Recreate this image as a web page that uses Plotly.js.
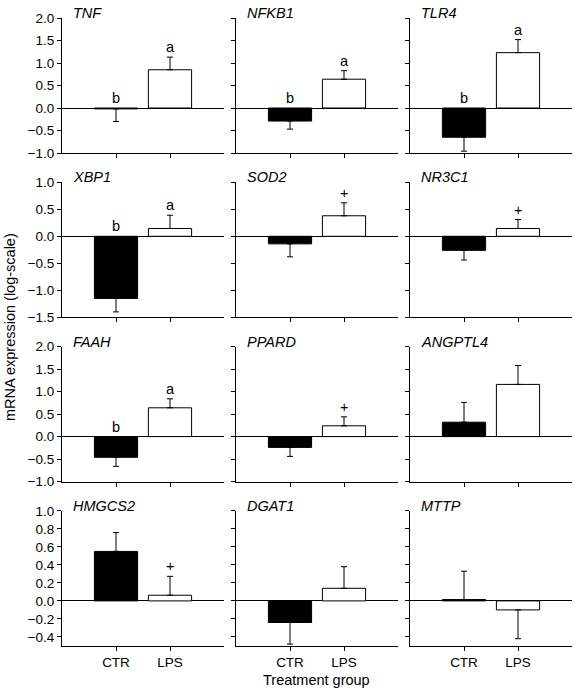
<!DOCTYPE html>
<html><head><meta charset="utf-8">
<script src="https://cdn.plot.ly/plotly-3.0.1.min.js"></script>
<style>html,body{margin:0;padding:0;background:#fff}#chart{width:574px;height:689px}</style>
</head><body><div id="chart"></div>
<script>
// ---- data ----
const genes = ['TNF','NFKB1','TLR4','XBP1','SOD2','NR3C1','FAAH','PPARD','ANGPTL4','HMGCS2','DGAT1','MTTP'];
const groups = ['CTR','LPS'];
const ctrMean = [-0.02, -0.29, -0.65, -1.15, -0.14, -0.26, -0.46, -0.24, 0.32, 0.55, -0.24, 0.015];
const ctrErr  = [0.28, 0.18, 0.31, 0.25, 0.24, 0.18, 0.20, 0.20, 0.44, 0.21, 0.24, 0.315];
const lpsMean = [0.85, 0.64, 1.23, 0.145, 0.38, 0.145, 0.64, 0.24, 1.16, 0.063, 0.14, -0.10];
const lpsErr  = [0.28, 0.19, 0.29, 0.245, 0.24, 0.165, 0.20, 0.20, 0.42, 0.21, 0.24, 0.32];
const ctrLetter = ['b','b','b','b','','','b','','','','',''];
const lpsLetter = ['a','a','a','a','+','+','a','+','','+','',''];
const yTitle = 'mRNA expression (log-scale)';
const xTitle = 'Treatment group';

// ---- layout ----
const W = 574, H = 689;
const colLeft = [62, 236, 410], colW = 162;
const rowTop = [18, 182.3, 346.6, 510.9], rowH = 135;
const rowRange = [[-1, 2], [-1.5, 1], [-1, 2], [-0.5, 1]];
const rowDtick = [0.5, 0.5, 0.5, 0.2];
const FONT = '"Liberation Sans", Arial, Helvetica, sans-serif';

const traces = [];
const annotations = [];
const layout = {
  width: W, height: H,
  margin: {l: 0, r: 0, t: 0, b: 0},
  paper_bgcolor: '#fff', plot_bgcolor: 'rgba(0,0,0,0)',
  showlegend: false,
  font: {family: FONT, color: '#000', size: 13},
  annotations: annotations
};

genes.forEach((g, i) => {
  const r = Math.floor(i / 3), c = i % 3, n = i + 1;
  const sfx = n === 1 ? '' : String(n);
  const xa = 'x' + sfx, ya = 'y' + sfx;
  const means = [ctrMean[i], lpsMean[i]];
  const errs = [ctrErr[i], lpsErr[i]];
  traces.push({
    type: 'bar', x: [1, 2], y: means, width: 0.8,
    xaxis: xa, yaxis: ya,
    marker: {color: ['#000', '#fff'], line: {color: '#000', width: 1}},
    error_y: {
      type: 'data', symmetric: false, visible: true,
      array: means.map((m, k) => m >= 0 ? errs[k] : 0),
      arrayminus: means.map((m, k) => m < 0 ? errs[k] : 0),
      color: '#000', thickness: 1, width: 3
    },
    hoverinfo: 'skip', showlegend: false
  });
  layout['xaxis' + sfx] = {
    domain: [colLeft[c] / W, (colLeft[c] + colW) / W], anchor: ya,
    range: [0, 3], tickmode: 'array', tickvals: [1, 2], ticktext: groups,
    showticklabels: r === 3, ticks: 'outside', ticklen: 4, tickwidth: 1, tickcolor: '#000',
    showline: true, linecolor: '#000', linewidth: 1, showgrid: false, zeroline: false,
    tickfont: {size: 13.5, color: '#000', family: FONT}, fixedrange: true
  };
  layout['yaxis' + sfx] = {
    domain: [1 - (rowTop[r] + rowH) / H, 1 - rowTop[r] / H], anchor: xa,
    range: rowRange[r], tick0: 0, dtick: rowDtick[r], tickformat: '.1f',
    showticklabels: c === 0, ticks: 'outside', ticklen: 4, tickwidth: 1, tickcolor: '#000',
    showline: true, linecolor: '#000', linewidth: 1, showgrid: false,
    zeroline: true, zerolinecolor: '#000', zerolinewidth: 1,
    tickfont: {size: 13.5, color: '#000', family: FONT}, fixedrange: true
  };
  // gene name
  annotations.push({
    xref: xa + ' domain', yref: ya + ' domain', x: 0, y: 1, xanchor: 'left', yanchor: 'middle',
    xshift: 9, yshift: 5, showarrow: false, text: '<i>' + g + '</i>',
    font: {size: 14.5, family: FONT, color: '#000'}
  });
  // significance letters
  const letters = [ctrLetter[i], lpsLetter[i]];
  letters.forEach((L, k) => {
    if (!L) return;
    const top = means[k] >= 0 ? means[k] + errs[k] : 0;
    annotations.push({
      xref: xa, yref: ya, x: k + 1, y: top, xanchor: 'center', yanchor: 'bottom',
      yshift: 0, showarrow: false, text: L,
      font: {size: 14.5, family: FONT, color: '#000'}
    });
  });
});

annotations.push({
  xref: 'paper', yref: 'paper', x: 10 / W, y: 1 - 327 / H, xanchor: 'center', yanchor: 'middle',
  textangle: -90, showarrow: false, text: yTitle, font: {size: 14.5, family: FONT, color: '#000'}
});
annotations.push({
  xref: 'paper', yref: 'paper', x: 316 / W, y: 1 - 680 / H, xanchor: 'center', yanchor: 'middle',
  showarrow: false, text: xTitle, font: {size: 14.5, family: FONT, color: '#000'}
});

Plotly.newPlot('chart', traces, layout, {staticPlot: true, displayModeBar: false});
</script>
</body></html>
